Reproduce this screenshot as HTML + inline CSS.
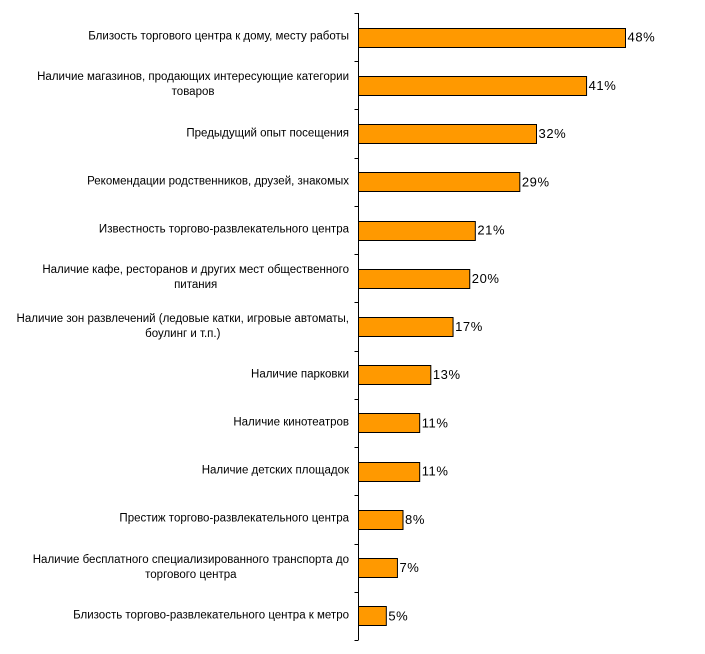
<!DOCTYPE html>
<html><head><meta charset="utf-8"><style>
body{margin:0;background:#fff;width:705px;height:654px;overflow:hidden;font-family:"Liberation Sans",Arial,sans-serif}
.lbl{position:absolute;right:356px;width:350px;text-align:right;font-size:11.5px;line-height:15px;color:#000;transform:translateY(-50%)}
.lbl span{display:inline-block;text-align:center;white-space:pre}
</style></head><body>
<svg id="chart" width="705" height="654" style="position:absolute;left:0;top:0"></svg>
<div id="labels"></div>
<script>
const categories=["Близость торгового центра к дому, месту работы","Наличие магазинов, продающих интересующие категории\nтоваров","Предыдущий опыт посещения","Рекомендации родственников, друзей, знакомых","Известность торгово-развлекательного центра","Наличие кафе, ресторанов и других мест общественного\nпитания","Наличие зон развлечений (ледовые катки, игровые автоматы,\nбоулинг и т.п.)","Наличие парковки","Наличие кинотеатров","Наличие детских площадок","Престиж торгово-развлекательного центра","Наличие бесплатного специализированного транспорта до\nторгового центра","Близость торгово-развлекательного центра к метро"];
const values=[48,41,32,29,21,20,17,13,11,11,8,7,5];
const valueLabels=["48%","41%","32%","29%","21%","20%","17%","13%","11%","11%","8%","7%","5%"];
const NS="http://www.w3.org/2000/svg";
const svg=document.getElementById('chart');
const x0=358.5,top0=13,bottom0=640;
const band=(bottom0-top0)/categories.length;
const xs=v=>x0+v*5.5625;
const yc=i=>top0+band*(i+0.5);
function mk(t,a){const e=document.createElementNS(NS,t);for(const k in a)e.setAttribute(k,a[k]);svg.appendChild(e);return e;}
const ax=mk('line',{x1:x0,y1:top0,x2:x0,y2:bottom0,stroke:'#000','stroke-width':1});


for(let i=0;i<=categories.length;i++){
  const y=Math.round(top0+band*i)+0.5;
  const t=mk('line',{x1:x0-4,y1:y,x2:x0,y2:y,stroke:'#000'});
  
  
}
const lbls=document.getElementById('labels');
values.forEach((v,i)=>{
  const c=yc(i);
  const r=mk('rect',{x:x0,y:Math.round(c-9.5)+0.5,width:xs(v)-x0,height:19,fill:'#FF9900',stroke:'#000','stroke-width':1});
  
  
  const t=mk('text',{x:xs(v)+2,y:c+4.5,'font-size':13,'letter-spacing':0.6,'font-family':'Liberation Sans, Arial, sans-serif',fill:'#000'});
  t.textContent=valueLabels[i];
  
  
  const d=document.createElement('div');
  d.className='lbl';d.style.top=c+'px';
  const s=document.createElement('span');s.textContent=categories[i];d.appendChild(s);
  
  
  lbls.appendChild(d);
});
</script>
</body></html>
